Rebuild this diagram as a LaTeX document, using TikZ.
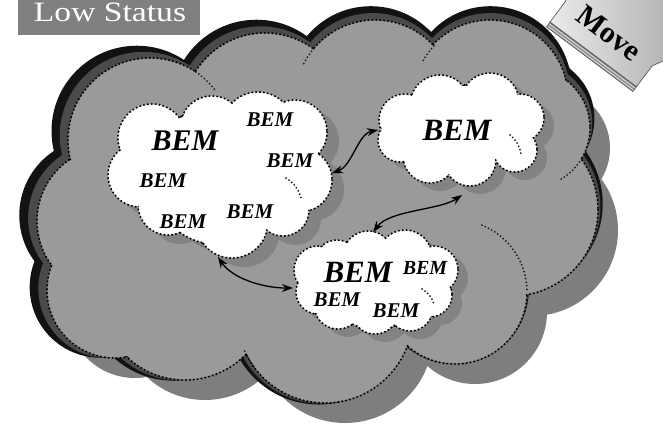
\documentclass[tikz,border=0pt]{standalone}
\usepackage{fontspec}
\setmainfont{Liberation Serif}
\usetikzlibrary{arrows.meta}
\definecolor{cloudgray}{HTML}{9A9A9A}
\definecolor{castgray}{HTML}{7E7E7E}
\definecolor{rimdark}{HTML}{4A4A4A}
\definecolor{rimblack}{HTML}{121212}
\definecolor{puffshade}{HTML}{838383}
\definecolor{tagfill}{HTML}{808080}

% every cloud is a union of circles; the argument trims each radius
\newcommand\bigcloudpath[1]{
  (150,140) circle[radius=82#1] (265,115) circle[radius=82#1]
  (375,100) circle[radius=80#1] (490,98) circle[radius=78#1]
  (530,128) circle[radius=60#1] (512,210) circle[radius=86#1]
  (455,292) circle[radius=72#1] (325,315) circle[radius=88#1]
  (185,295) circle[radius=85#1] (111,221) circle[radius=74#1]
  (115,290) circle[radius=68#1] (320,205) circle[radius=150#1]
  (200,215) circle[radius=100#1] (450,200) circle[radius=110#1]}
\newcommand\puffApath[1]{
  (152,138) circle[radius=34#1] (212,128) circle[radius=32#1]
  (258,128) circle[radius=36#1] (295,132) circle[radius=32#1]
  (300,180) circle[radius=32#1] (283,210) circle[radius=26#1]
  (232,222) circle[radius=36#1] (168,205) circle[radius=30#1]
  (140,175) circle[radius=32#1] (220,175) circle[radius=70#1]}
\newcommand\puffBpath[1]{
  (405,120) circle[radius=26#1] (440,105) circle[radius=30#1]
  (490,102) circle[radius=29#1] (520,118) circle[radius=24#1]
  (515,150) circle[radius=22#1] (470,160) circle[radius=26#1]
  (430,156) circle[radius=27#1] (400,140) circle[radius=22#1]
  (462,130) circle[radius=45#1]}
\newcommand\puffCpath[1]{
  (318,270) circle[radius=24#1] (337,262) circle[radius=22#1]
  (368,256) circle[radius=25#1] (405,257) circle[radius=27#1]
  (434,270) circle[radius=24#1] (430,295) circle[radius=22#1]
  (410,308) circle[radius=23#1] (375,310) circle[radius=24#1]
  (338,305) circle[radius=24#1] (318,292) circle[radius=22#1]
  (375,285) circle[radius=45#1]}

\begin{document}
\begin{tikzpicture}[x=1pt,y=-1pt,
  dotrim/.style={draw=black, line width=2.3pt, line cap=round, dash pattern=on 0pt off 3.9pt},
  dotline/.style={draw=black!90, line width=2pt, line cap=round, dash pattern=on 0pt off 3.6pt},
  bem/.style={font=\fontsize{#1}{#1}\selectfont\bfseries\itshape, inner sep=0pt},
  link/.style={line width=1.3pt, {Stealth[length=11pt,width=8pt]}-{Stealth[length=11pt,width=8pt]}},
]
\useasboundingbox (0,0) rectangle (663,426);
\fill[white] (0,0) rectangle (663,426);
\clip (0,0) rectangle (663,426);

% large cloud: cast shadow, stacked rims, then the dotted body
\fill[castgray, shift={(20,20)}] \bigcloudpath{};
\begin{scope}[shift={(-6,-6)}, scale around={1.04:(330,215)}]
  \fill[rimblack] \bigcloudpath{};
\end{scope}
\begin{scope}[shift={(-3,-3)}, scale around={1.02:(330,215)}]
  \fill[rimdark] \bigcloudpath{};
\end{scope}
\fill[cloudgray!85!black] \bigcloudpath{};
\draw[dotrim] \bigcloudpath{};
\fill[cloudgray] \bigcloudpath{-1};

% puff seams inside the large cloud
\draw[dotline] (195.9,72) arc[start angle=-56, end angle=-38, radius=82];
\draw[dotline] (313.7,48.6) arc[start angle=-140, end angle=-153, radius=80];
\draw[dotline] (433.9,45.9) arc[start angle=-137, end angle=-151, radius=78];
\draw[dotline] (581.4,158.9) arc[start angle=31, end angle=60, radius=60];
\draw[dotline] (482,225.2) arc[start angle=-68, end angle=0, radius=72];
\draw[dotline] (253.8,366.7) arc[start angle=144, end angle=158, radius=88];

% small white clouds
\fill[puffshade, shift={(12,9)}] \puffApath{};
\fill[puffshade, shift={(10,8)}] \puffBpath{};
\fill[puffshade, shift={(10,8)}] \puffCpath{};
\fill[white!90!black] \puffApath{};
\fill[white!90!black] \puffBpath{};
\fill[white!90!black] \puffCpath{};
\draw[dotrim] \puffApath{};
\draw[dotrim] \puffBpath{};
\draw[dotrim] \puffCpath{};
\fill[white] \puffApath{-1};
\fill[white] \puffBpath{-1};
\fill[white] \puffCpath{-1};
\draw[dotline] (286,178) to[bend left=20] (301,198);
\draw[dotline] (510,135) to[bend left=20] (521,154);
\draw[dotline] (422,289) to[bend left=20] (434,304);

% labels inside the clouds
\node[bem=30] (bemA)  at (185,141) {BEM};
\node[bem=21] (bemA1) at (270,120) {BEM};
\node[bem=21] (bemA2) at (290,161) {BEM};
\node[bem=21] (bemA3) at (163,181) {BEM};
\node[bem=21] (bemA4) at (183,222) {BEM};
\node[bem=21] (bemA5) at (250,212) {BEM};
\node[bem=31] (bemB)  at (457,130) {BEM};
\node[bem=31] (bemC)  at (358,272) {BEM};
\node[bem=20] (bemC1) at (425,268) {BEM};
\node[bem=21] (bemC2) at (337,300) {BEM};
\node[bem=21] (bemC3) at (396,311) {BEM};

% two-way links between the white clouds
\coordinate (endA1) at (218,257);
\coordinate (endC1) at (293,288);
\coordinate (endA2) at (332,173);
\coordinate (endB2) at (378,130);
\coordinate (endC3) at (373,232);
\coordinate (endB3) at (462,195);
\draw[link] (endA1) .. controls (232,278) and (262,288) .. (endC1);
\draw[link] (endA2) .. controls (352,166) and (358,134) .. (endB2);
\draw[link] (endC3) .. controls (390,210) and (440,210) .. (endB3);

% title tag
\node[fill=tagfill, minimum width=182pt, minimum height=35pt, inner sep=0pt] (lowbox) at (109,17.5) {};
\node[text=white, inner sep=0pt, font=\fontsize{28}{28}\selectfont] (lowtext) at (110,12.5) {\scalebox{1.2}[1]{Low Status}};

% block arrow in the corner
\fill[black!45] (550,22) -- (636.5,86.7) -- (632.9,91.5) -- (546.4,26.8) -- cycle;
\draw[black!12, line width=0.8pt] (548.8,23.6) -- (635.3,88.3);
\draw[black!12, line width=0.8pt] (547.2,25.6) -- (633.7,90.3);
\draw[black!70, line width=0.5pt] (550,22) -- (636.5,86.7) -- (632.9,91.5) -- (546.4,26.8) -- cycle;
\path[draw=black!70, line width=0.6pt, left color=black!8, right color=black!30]
  (550,22) -- (636.5,86.7) -- (652.1,65.9) -- (670.9,57.5) -- (665.2,-41.8)
  -- (568.4,-19.2) -- (565.6,1.2) -- cycle;
\node[rotate=-37, inner sep=0pt, font=\fontsize{30}{30}\selectfont\bfseries] (movetext) at (609,33) {Move};
\end{tikzpicture}
\end{document}
